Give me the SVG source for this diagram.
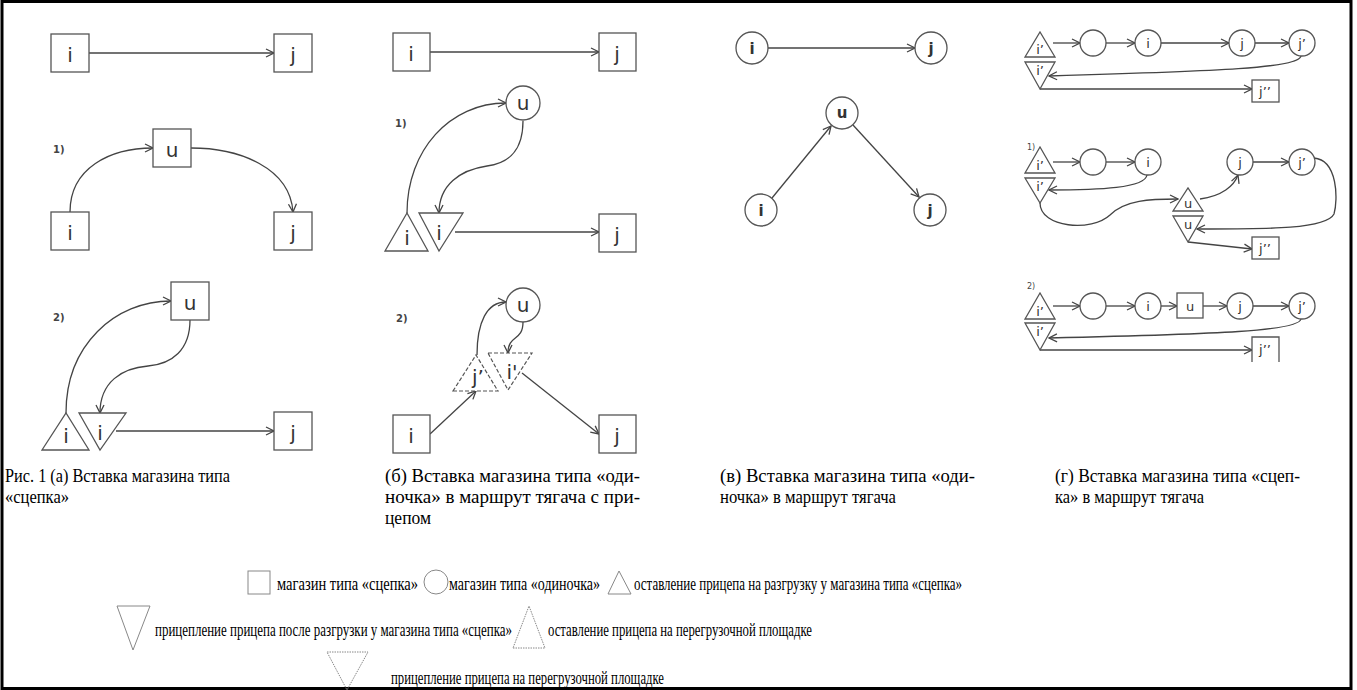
<svg xmlns="http://www.w3.org/2000/svg" width="1357" height="690" viewBox="0 0 1357 690">
<defs>
<marker id="a" markerWidth="10" markerHeight="10" refX="9" refY="5" orient="auto" markerUnits="userSpaceOnUse"><path d="M1,1 L9,5 L1,9" fill="none" stroke="#444" stroke-width="1.3"/></marker>
<style>
.n{fill:#fff;stroke:#555;stroke-width:1.3}
.dn{fill:#fff;stroke:#555;stroke-width:1.2;stroke-dasharray:4 2}
.e{fill:none;stroke:#444;stroke-width:1.3;marker-end:url(#a)}
.t{font-family:"DejaVu Sans",sans-serif;font-size:20px;fill:#333;text-anchor:middle}
.tc{font-family:"DejaVu Sans",sans-serif;font-size:15px;font-weight:bold;fill:#333;text-anchor:middle}
.ts{font-family:"DejaVu Sans",sans-serif;font-size:13px;fill:#333;text-anchor:middle}
.num{font-family:"DejaVu Sans",sans-serif;font-size:10px;font-weight:bold;fill:#444}
.num2{font-family:"DejaVu Sans",sans-serif;font-size:8px;fill:#444}
.cap{font-family:"Liberation Serif",serif;font-size:19px;fill:#000}
.leg{font-family:"Liberation Serif",serif;font-size:18px;fill:#000}
.lg{fill:none;stroke:#888;stroke-width:1}
.lgd{fill:none;stroke:#888;stroke-width:1;stroke-dasharray:1.5 1}
</style>
</defs>
<rect x="2" y="1.5" width="1349" height="687" fill="#fff" stroke="#000" stroke-width="3"/>

<g id="connectors">
<path class="e" d="M89,53 H274"/>
<path class="e" d="M70,212 C70,168 110,148 153,148"/>
<path class="e" d="M191,148 C240,148 290,168 293,212"/>
<path class="e" d="M66,413 C66,345 115,301 171,301"/>
<path class="e" d="M190,320 C190,350 172,364 148,366 C122,368 100,382 100,413"/>
<path class="e" d="M116,431 H274"/>

<path class="e" d="M430,52 H599"/>
<path class="e" d="M407,213 C407,150 450,103 506,103"/>
<path class="e" d="M523,121 C523,150 510,163 487,166 C460,170 439,185 439,213"/>
<path class="e" d="M455,232 H599"/>
<path class="e" d="M430,434 L476,391"/>
<path class="e" d="M522,373 L599,434"/>
<path class="e" d="M477,355 C477,322 487,302 506,302"/>
<path class="e" d="M523,322 C523,342 508,334 508,353"/>

<path class="e" d="M768,48 H915"/>
<path class="e" d="M772,198 L831,126"/>
<path class="e" d="M853,125 L919,197"/>

<path class="e" d="M1053,43 H1080"/>
<path class="e" d="M1106,43 H1135"/>
<path class="e" d="M1161,43 H1229"/>
<path class="e" d="M1255,43 H1289"/>
<path class="e" d="M1301,56 C1299,68 1220,71 1049,76"/>
<path class="e" d="M1040,89 H1252"/>

<path class="e" d="M1053,162 H1080"/>
<path class="e" d="M1106,162 H1135"/>
<path class="e" d="M1253,162 H1289"/>
<path class="e" d="M1147,175 C1145,188 1100,190 1049,190"/>
<path class="e" d="M1040,203 C1040,228 1092,232 1110,215 C1125,200 1150,199 1178,199"/>
<path class="e" d="M1200,199 C1222,196 1234,186 1238,175"/>
<path class="e" d="M1314,158 C1338,160 1338,200 1334,214 C1326,230 1260,229 1197,229"/>
<path class="e" d="M1188,242 L1252,249"/>

<path class="e" d="M1053,306 H1080"/>
<path class="e" d="M1106,306 H1135"/>
<path class="e" d="M1161,306 H1177"/>
<path class="e" d="M1203,306 H1227"/>
<path class="e" d="M1253,306 H1289"/>
<path class="e" d="M1301,319 C1299,331 1220,334 1049,338"/>
<path class="e" d="M1040,350 H1252"/>
</g>

<!-- Panel a -->
<g id="a-i0"><rect class="n" x="51" y="34" width="38" height="38"/><text class="t" x="70" y="62">i</text></g>
<g id="a-j0"><rect class="n" x="274" y="34" width="38" height="38"/><text class="t" x="293" y="62">j</text></g>
<text class="num" x="53" y="153">1)</text>
<g id="a-u1"><rect class="n" x="153" y="129" width="38" height="38"/><text class="t" x="172" y="157">u</text></g>
<g id="a-i1"><rect class="n" x="51" y="212" width="38" height="38"/><text class="t" x="70" y="240">i</text></g>
<g id="a-j1"><rect class="n" x="274" y="212" width="38" height="38"/><text class="t" x="293" y="240">j</text></g>
<text class="num" x="53" y="321">2)</text>
<g id="a-u2"><rect class="n" x="171" y="282" width="38" height="38"/><text class="t" x="190" y="310">u</text></g>
<g id="a-it2"><path class="n" d="M42,450 L89,450 L66,413 Z"/><text class="t" x="66" y="443">i</text></g>
<g id="a-id2"><path class="n" d="M79,413 L126,413 L100,450 Z"/><text class="t" x="100" y="440">i</text></g>
<g id="a-j2"><rect class="n" x="274" y="412" width="38" height="38"/><text class="t" x="293" y="440">j</text></g>

<!-- Panel b -->
<g id="b-i0"><rect class="n" x="393" y="33" width="37" height="38"/><text class="t" x="411" y="61">i</text></g>
<g id="b-j0"><rect class="n" x="599" y="33" width="37" height="38"/><text class="t" x="617" y="61">j</text></g>
<text class="num" x="395" y="127">1)</text>
<g id="b-u1"><circle class="n" cx="523" cy="103" r="17"/><text class="t" x="523" y="110">u</text></g>
<g id="b-it1"><path class="n" d="M385,251 L428,251 L407,213 Z"/><text class="t" x="407" y="245">i</text></g>
<g id="b-id1"><path class="n" d="M419,213 L463,213 L439,251 Z"/><text class="t" x="439" y="240">i</text></g>
<g id="b-j1"><rect class="n" x="599" y="214" width="37" height="38"/><text class="t" x="617" y="242">j</text></g>
<text class="num" x="396" y="322">2)</text>
<g id="b-u2"><circle class="n" cx="523" cy="305" r="17"/><text class="t" x="523" y="312">u</text></g>
<g id="b-jt2"><path class="dn" d="M453,391 L498,391 L476,355 Z"/><text class="t" x="478" y="384">j’</text></g>
<g id="b-id2"><path class="dn" d="M488,353 L532,353 L508,390 Z"/><text class="t" x="512" y="379">i'</text></g>
<g id="b-i2"><rect class="n" x="393" y="415" width="37" height="38"/><text class="t" x="411" y="443">i</text></g>
<g id="b-j2"><rect class="n" x="599" y="415" width="37" height="38"/><text class="t" x="617" y="443">j</text></g>

<!-- Panel c -->
<g id="c-i0"><circle class="n" cx="752" cy="48" r="16"/><text class="tc" x="752" y="54">i</text></g>
<g id="c-j0"><circle class="n" cx="931" cy="48" r="16"/><text class="tc" x="931" y="54">j</text></g>
<g id="c-u1"><circle class="n" cx="842" cy="113" r="16"/><text class="tc" x="842" y="118">u</text></g>
<g id="c-i1"><circle class="n" cx="761" cy="210" r="16"/><text class="tc" x="761" y="216">i</text></g>
<g id="c-j1"><circle class="n" cx="930" cy="210" r="16"/><text class="tc" x="930" y="216">j</text></g>

<!-- Panel d top -->
<g id="d0-it"><path class="n" d="M1025,57 L1055,57 L1040,32 Z"/><text class="ts" x="1040" y="54">i’</text></g>
<g id="d0-c"><circle class="n" cx="1093" cy="43" r="13"/></g>
<g id="d0-i"><circle class="n" cx="1148" cy="43" r="13"/><text class="ts" x="1148" y="48">i</text></g>
<g id="d0-j"><circle class="n" cx="1242" cy="43" r="13"/><text class="ts" x="1242" y="48">j</text></g>
<g id="d0-jp"><circle class="n" cx="1302" cy="43" r="13"/><text class="ts" x="1302" y="48">j’</text></g>
<g id="d0-id"><path class="n" d="M1025,62 L1055,62 L1040,89 Z"/><text class="ts" x="1040" y="75">i’</text></g>
<g id="d0-jpp"><rect class="n" x="1252" y="80" width="27" height="22"/><text class="ts" x="1265" y="96">j’’</text></g>

<!-- Panel d 1) -->
<text class="num2" x="1027" y="150">1)</text>
<g id="d1-it"><path class="n" d="M1025,173 L1055,173 L1040,147 Z"/><text class="ts" x="1040" y="170">i’</text></g>
<g id="d1-c"><circle class="n" cx="1093" cy="162" r="13"/></g>
<g id="d1-i"><circle class="n" cx="1148" cy="162" r="13"/><text class="ts" x="1148" y="167">i</text></g>
<g id="d1-j"><circle class="n" cx="1240" cy="162" r="13"/><text class="ts" x="1240" y="167">j</text></g>
<g id="d1-jp"><circle class="n" cx="1302" cy="162" r="13"/><text class="ts" x="1302" y="167">j’</text></g>
<g id="d1-id"><path class="n" d="M1025,178 L1055,178 L1040,203 Z"/><text class="ts" x="1040" y="191">i’</text></g>
<g id="d1-ut"><path class="n" d="M1173,211 L1203,211 L1188,188 Z"/><text class="ts" x="1188" y="208">u</text></g>
<g id="d1-ud"><path class="n" d="M1173,216 L1203,216 L1188,242 Z"/><text class="ts" x="1188" y="229">u</text></g>
<g id="d1-jpp"><rect class="n" x="1252" y="237" width="27" height="22"/><text class="ts" x="1265" y="253">j’’</text></g>

<!-- Panel d 2) -->
<text class="num2" x="1027" y="289">2)</text>
<g id="d2-it"><path class="n" d="M1025,319 L1055,319 L1040,293 Z"/><text class="ts" x="1040" y="316">i’</text></g>
<g id="d2-c"><circle class="n" cx="1093" cy="306" r="13"/></g>
<g id="d2-i"><circle class="n" cx="1148" cy="306" r="13"/><text class="ts" x="1148" y="311">i</text></g>
<g id="d2-u"><rect class="n" x="1177" y="293" width="26" height="25"/><text class="ts" x="1190" y="311">u</text></g>
<g id="d2-j"><circle class="n" cx="1240" cy="306" r="13"/><text class="ts" x="1240" y="311">j</text></g>
<g id="d2-jp"><circle class="n" cx="1302" cy="306" r="13"/><text class="ts" x="1302" y="311">j’</text></g>
<g id="d2-id"><path class="n" d="M1025,323 L1055,323 L1040,350 Z"/><text class="ts" x="1040" y="336">i’</text></g>
<g id="d2-jpp"><path class="n" d="M1252,362 V337 H1279 V362" fill="none"/><text class="ts" x="1265" y="354">j’’</text></g>

<!-- Captions -->
<g id="captions">
<text class="cap" x="5" y="482" textLength="225" lengthAdjust="spacingAndGlyphs">Рис. 1 (а) Вставка магазина типа</text>
<text class="cap" x="5" y="503" textLength="64" lengthAdjust="spacingAndGlyphs">«сцепка»</text>
<text class="cap" x="385" y="482" textLength="255" lengthAdjust="spacingAndGlyphs">(б) Вставка магазина типа «оди-</text>
<text class="cap" x="385" y="503" textLength="255" lengthAdjust="spacingAndGlyphs">ночка» в маршрут тягача с при-</text>
<text class="cap" x="385" y="524" textLength="46" lengthAdjust="spacingAndGlyphs">цепом</text>
<text class="cap" x="720" y="482" textLength="255" lengthAdjust="spacingAndGlyphs">(в) Вставка магазина типа «оди-</text>
<text class="cap" x="720" y="503" textLength="176" lengthAdjust="spacingAndGlyphs">ночка» в маршрут тягача</text>
<text class="cap" x="1055" y="482" textLength="245" lengthAdjust="spacingAndGlyphs">(г) Вставка магазина типа «сцеп-</text>
<text class="cap" x="1055" y="503" textLength="149" lengthAdjust="spacingAndGlyphs">ка» в маршрут тягача</text>
</g>

<!-- Legend -->
<g id="legend">
<rect class="lg" x="248" y="571" width="22" height="23"/>
<text class="leg" x="277" y="590" textLength="141" lengthAdjust="spacingAndGlyphs">магазин типа «сцепка»</text>
<ellipse class="lg" cx="436" cy="582" rx="12" ry="12"/>
<text class="leg" x="449" y="590" textLength="151" lengthAdjust="spacingAndGlyphs">магазин типа «одиночка»</text>
<path class="lg" d="M608,594 L631,594 L619,571 Z"/>
<text class="leg" x="634" y="590" textLength="328" lengthAdjust="spacingAndGlyphs">оставление прицепа на разгрузку у магазина типа «сцепка»</text>
<path class="lg" d="M117,606 L150,606 L133,650 Z"/>
<text class="leg" x="155" y="636" textLength="357" lengthAdjust="spacingAndGlyphs">прицепление прицепа после разгрузки у магазина типа «сцепка»</text>
<path class="lgd" d="M513,648 L545,648 L529,606 Z"/>
<text class="leg" x="548" y="636" textLength="264" lengthAdjust="spacingAndGlyphs">оставление прицепа на перегрузочной площадке</text>
<path class="lgd" d="M327,652 L368,652 L347,690 Z"/>
<text class="leg" x="391" y="684" textLength="273" lengthAdjust="spacingAndGlyphs">прицепление прицепа на перегрузочной площадке</text>
</g>
</svg>
